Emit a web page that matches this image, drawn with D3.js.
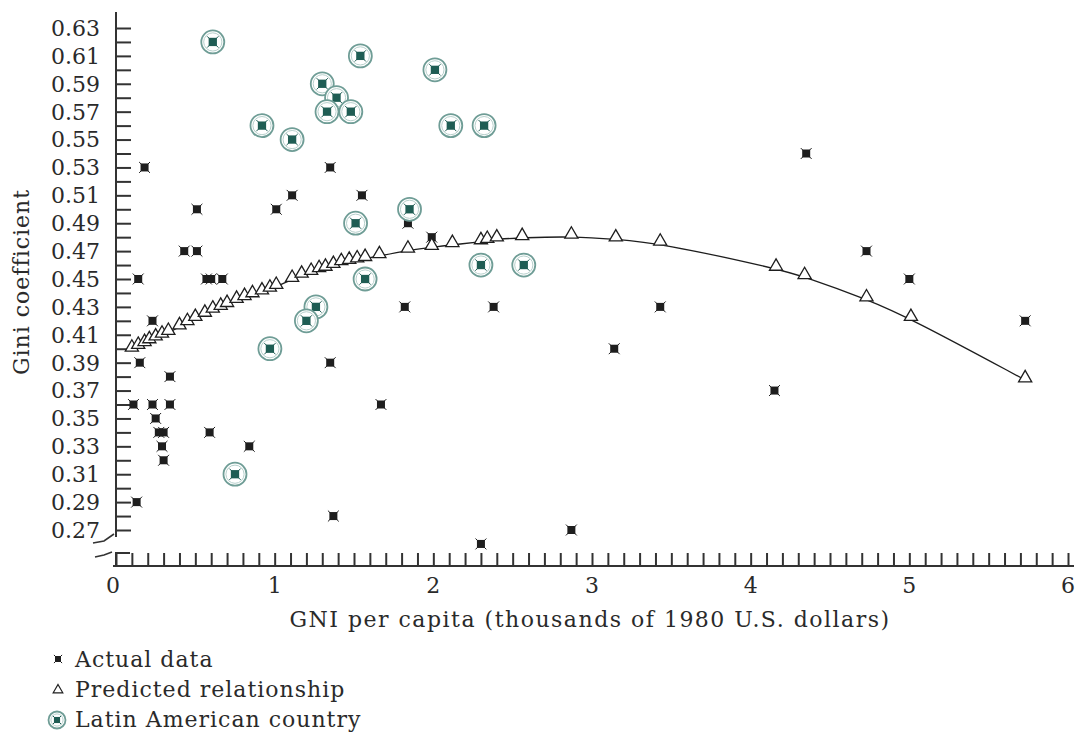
<!DOCTYPE html>
<html>
<head>
<meta charset="utf-8">
<script src="https://cdn.jsdelivr.net/npm/d3@7"></script>
<style>
  body { margin: 0; background: #ffffff; }
  text { font-family: "DejaVu Serif", serif; fill: #2a2a2a; }
</style>
</head>
<body>
<div id="grafico"></div>
<script>
const ANCHO = 1081;
const ALTO = 738;

// datos
const actualX = [0.18, 0.51, 1.01, 1.11, 1.35, 1.55, 0.43, 0.51, 0.14, 0.57, 0.60, 0.67, 0.23, 0.15, 0.34, 0.11, 0.23, 0.34, 0.25, 0.27, 0.30, 0.29, 0.30, 0.59, 0.84, 0.13, 1.35, 1.37, 1.67, 1.82, 2.38, 3.43, 3.14, 2.30, 2.87, 1.84, 1.99, 4.35, 4.73, 5.00, 5.73, 4.15];
const actualY = [0.53, 0.50, 0.50, 0.51, 0.53, 0.51, 0.47, 0.47, 0.45, 0.45, 0.45, 0.45, 0.42, 0.39, 0.38, 0.36, 0.36, 0.36, 0.35, 0.34, 0.34, 0.33, 0.32, 0.34, 0.33, 0.29, 0.39, 0.28, 0.36, 0.43, 0.43, 0.43, 0.40, 0.26, 0.27, 0.49, 0.48, 0.54, 0.47, 0.45, 0.42, 0.37];

const latinoX = [0.61, 0.92, 1.11, 1.30, 1.39, 1.33, 1.48, 1.54, 2.01, 2.11, 2.32, 1.51, 1.85, 1.57, 2.30, 2.57, 1.26, 1.20, 0.97, 0.75];
const latinoY = [0.62, 0.56, 0.55, 0.59, 0.58, 0.57, 0.57, 0.61, 0.60, 0.56, 0.56, 0.49, 0.50, 0.45, 0.46, 0.46, 0.43, 0.42, 0.40, 0.31];

const prediccionX = [0.10, 0.14, 0.18, 0.21, 0.25, 0.29, 0.33, 0.40, 0.45, 0.50, 0.56, 0.61, 0.66, 0.70, 0.76, 0.81, 0.86, 0.92, 0.97, 1.01, 1.11, 1.17, 1.23, 1.28, 1.32, 1.37, 1.42, 1.47, 1.52, 1.57, 1.66, 1.84, 1.99, 2.12, 2.30, 2.34, 2.40, 2.56, 2.87, 3.15, 3.43, 4.16, 4.34, 4.73, 5.01, 5.73];
const prediccionY = [0.401, 0.403, 0.405, 0.407, 0.409, 0.411, 0.413, 0.417, 0.420, 0.423, 0.426, 0.429, 0.431, 0.433, 0.436, 0.438, 0.440, 0.442, 0.444, 0.446, 0.451, 0.454, 0.456, 0.458, 0.459, 0.461, 0.463, 0.464, 0.465, 0.466, 0.468, 0.472, 0.474, 0.476, 0.478, 0.479, 0.480, 0.481, 0.482, 0.480, 0.477, 0.459, 0.453, 0.437, 0.423, 0.379];

const ticksY = d3.range(27, 64).map(d => d / 100);
const etiquetasY = ["0.27", "0.29", "0.31", "0.33", "0.35", "0.37", "0.39", "0.41", "0.43", "0.45", "0.47", "0.49", "0.51", "0.53", "0.55", "0.57", "0.59", "0.61", "0.63"];
const ticksX = d3.range(0, 61).map(d => d / 10);
const etiquetasX = ["0", "1", "2", "3", "4", "5", "6"];
const leyenda = ["Actual data", "Predicted relationship", "Latin American country"];

const COLOR_NEGRO = "#1e1e1e";
const COLOR_TEAL = "#1f5d54";
const COLOR_ANILLO = "#6f9d96";

const x = d3.scaleLinear().domain([0, 6]).range([116, 1068]);
const y = d3.scaleLinear().domain([0.27, 0.63]).range([530, 28]);
const EJE_X = 566;

const $svg = d3.select("#grafico")
    .append("svg")
    .attr("width", ANCHO)
    .attr("height", ALTO);

// eje Y (quebrado abajo)
const ejeY = $svg.append("g").attr("transform", `translate(${x(0)},0)`);
ejeY.call(d3.axisRight(y)
    .tickValues(ticksY)
    .tickSize(15)
    .tickFormat(""));
ejeY.select(".domain").remove();
ejeY.selectAll(".tick line").attr("stroke", "#333").attr("stroke-width", 2);
ejeY.append("line")
    .attr("x1", 0).attr("x2", 0)
    .attr("y1", 12).attr("y2", 537)
    .attr("stroke", "#333").attr("stroke-width", 2);

const etiquetas = $svg.append("g");
etiquetas.selectAll("text")
    .data(etiquetasY)
    .enter()
    .append("text")
    .attr("x", 100)
    .attr("y", d => y(+d))
    .attr("dy", "0.36em")
    .attr("text-anchor", "end")
    .attr("font-size", 22)
    .text(d => d);

// marcas del corte
$svg.append("path")
    .attr("d", "M93,543 L104,541 L114,534 M95,557 L104,555 L112,552")
    .attr("fill", "none").attr("stroke", "#333").attr("stroke-width", 1.6);
$svg.append("path")
    .attr("d", `M${x(0)},552 L${x(0)},${EJE_X} M${x(0)},553 L${x(0) + 14},553`)
    .attr("fill", "none").attr("stroke", "#333").attr("stroke-width", 2);

// eje X
const ejeX = $svg.append("g").attr("transform", `translate(0,${EJE_X})`);
ejeX.call(d3.axisTop(x)
    .tickValues(ticksX)
    .tickSize(13)
    .tickFormat(""));
ejeX.select(".domain").remove();
ejeX.selectAll(".tick line").attr("stroke", "#333").attr("stroke-width", 2);
ejeX.append("line")
    .attr("x1", x(0) - 3).attr("x2", 1074)
    .attr("y1", 0).attr("y2", 0)
    .attr("stroke", "#333").attr("stroke-width", 2);

$svg.append("g").selectAll("text")
    .data(etiquetasX)
    .enter()
    .append("text")
    .attr("x", d => x(+d) - (d === "0" ? 3 : 0))
    .attr("y", 593)
    .attr("text-anchor", "middle")
    .attr("font-size", 22)
    .text(d => d);

$svg.append("text")
    .attr("x", 590)
    .attr("y", 627)
    .attr("text-anchor", "middle")
    .attr("font-size", 22)
    .attr("letter-spacing", 1.5)
    .text("GNI per capita (thousands of 1980 U.S. dollars)");

$svg.append("text")
    .attr("transform", "translate(29,282) rotate(-90)")
    .attr("text-anchor", "middle")
    .attr("font-size", 22)
    .attr("letter-spacing", 1)
    .text("Gini coefficient");

// marcadores
const dibujarCuadro = (g, cx, cy, lado, color) => {
    const e = lado * 0.68;
    g.append("path")
        .attr("d", `M${cx - e},${cy - e} L${cx + e},${cy + e} M${cx + e},${cy - e} L${cx - e},${cy + e}`)
        .attr("stroke", color).attr("stroke-width", 1);
    g.append("rect")
        .attr("x", cx - lado / 2).attr("y", cy - lado / 2)
        .attr("width", lado).attr("height", lado)
        .attr("fill", color);
};
const dibujarLatino = (g, cx, cy, r) => {
    g.append("circle")
        .attr("cx", cx).attr("cy", cy).attr("r", r)
        .attr("fill", "#ffffff")
        .attr("stroke", COLOR_ANILLO).attr("stroke-width", 1.8);
    g.append("circle")
        .attr("cx", cx).attr("cy", cy).attr("r", r - 2.4)
        .attr("fill", "none")
        .attr("stroke", "#b7d0cc").attr("stroke-width", 1);
    dibujarCuadro(g, cx, cy, r * 0.72, COLOR_TEAL);
};
const triangulo = d3.symbol().type(d3.symbolTriangle);

// curva de la relacion predicha
const puntosPred = prediccionX.map((v, i) => [v, prediccionY[i]]);
$svg.append("path")
    .datum(puntosPred)
    .attr("fill", "none")
    .attr("stroke", COLOR_NEGRO)
    .attr("stroke-width", 1.3)
    .attr("d", d3.line().x(d => x(d[0])).y(d => y(d[1]) + 2).curve(d3.curveBasis));

const gActual = $svg.append("g");
actualX.forEach((v, i) => dibujarCuadro(gActual, x(v), y(actualY[i]), 8, COLOR_NEGRO));

$svg.append("g").selectAll("path")
    .data(puntosPred)
    .enter()
    .append("path")
    .attr("transform", d => `translate(${x(d[0])},${y(d[1])})`)
    .attr("d", triangulo.size(75))
    .attr("fill", "#ffffff")
    .attr("stroke", COLOR_NEGRO)
    .attr("stroke-width", 1.3);

const gLatino = $svg.append("g");
latinoX.forEach((v, i) => dibujarLatino(gLatino, x(v), y(latinoY[i]), 11.5));

// leyenda
const gLeyenda = $svg.append("g");
dibujarCuadro(gLeyenda, 58, 659, 6, COLOR_NEGRO);
gLeyenda.append("path")
    .attr("transform", "translate(58,690)")
    .attr("d", triangulo.size(40))
    .attr("fill", "#ffffff")
    .attr("stroke", COLOR_NEGRO)
    .attr("stroke-width", 1.2);
dibujarLatino(gLeyenda, 57, 720, 8.5);
gLeyenda.selectAll("text")
    .data(leyenda)
    .enter()
    .append("text")
    .attr("x", 75)
    .attr("y", (d, i) => 659 + i * 30)
    .attr("dy", "0.36em")
    .attr("font-size", 22)
    .attr("letter-spacing", 1)
    .text(d => d);
</script>
</body>
</html>
